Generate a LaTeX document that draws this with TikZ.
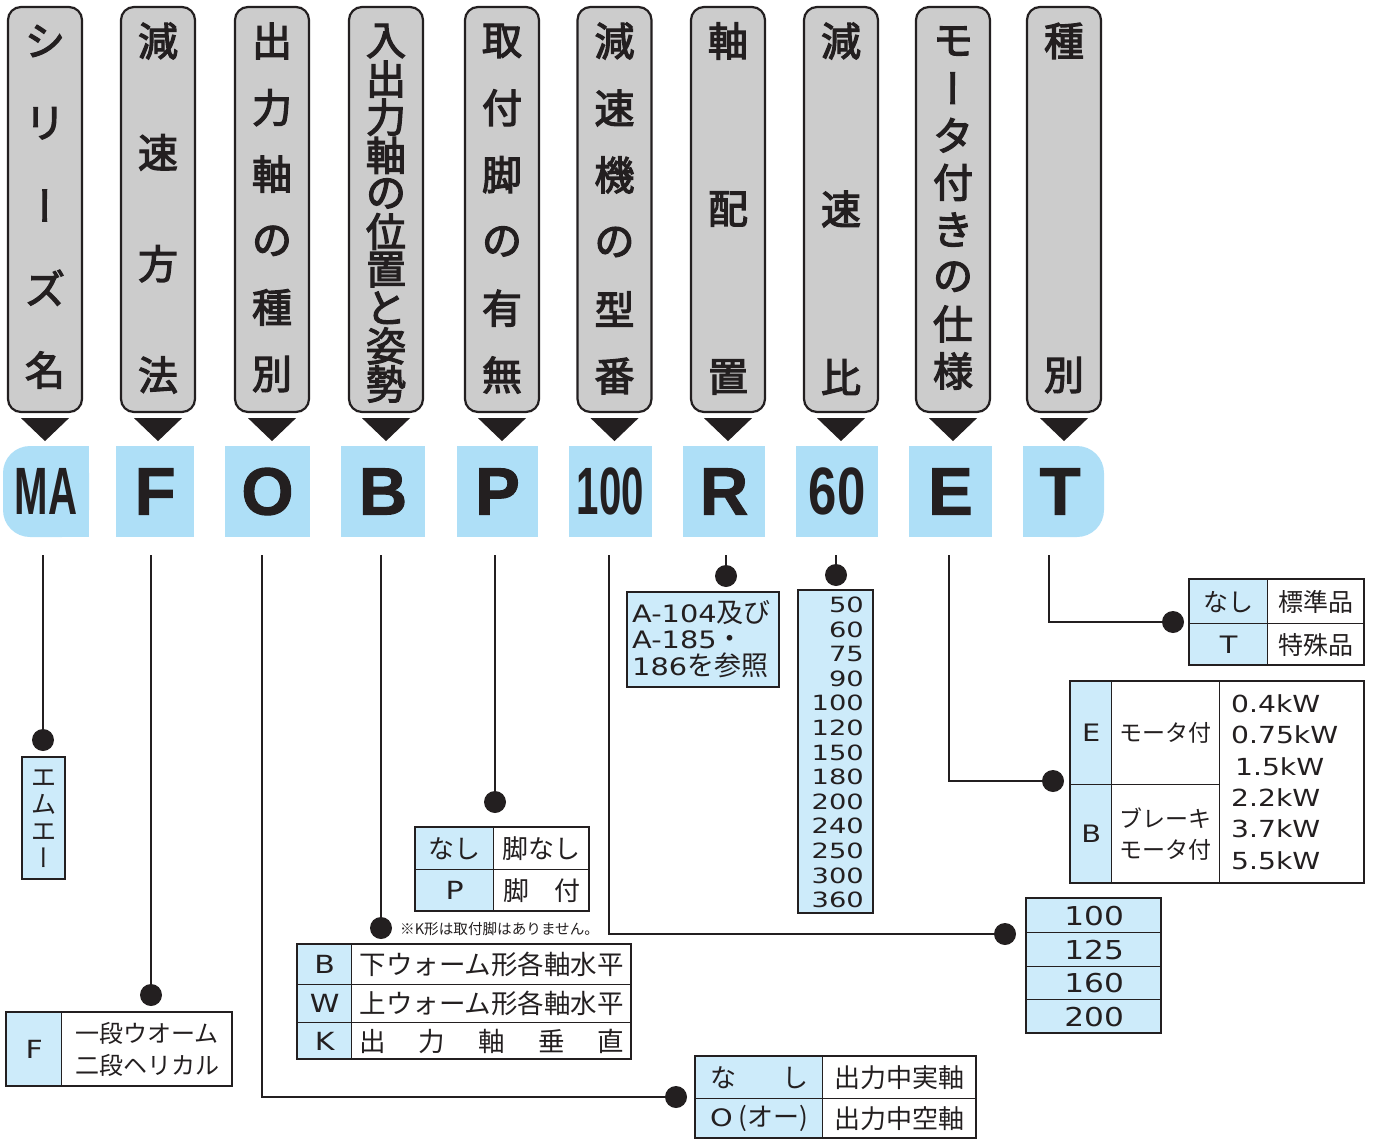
\documentclass[tikz,border=0pt]{standalone}
\usepackage{fontspec}
\setmainfont{Noto Sans CJK JP}
\newfontfamily\jp{Noto Sans CJK JP}
\newfontfamily\jph{Noto Sans CJK JP}[FakeBold=3]
\newfontfamily\ltw{DejaVu Sans}[FakeStretch=1.2]
\newfontfamily\ltn{DejaVu Sans}[FakeStretch=1.3]
\newfontfamily\fbw{Liberation Sans}[FakeBold=1.5]
\newfontfamily\fbc{Liberation Sans}[FakeStretch=0.6]
\newfontfamily\fbm{Liberation Sans}[FakeStretch=0.76]
\definecolor{ink}{HTML}{231F20}
\definecolor{hdr}{HTML}{CCCCCC}
\definecolor{key}{HTML}{AEDFF7}
\definecolor{cellc}{HTML}{CDEBFA}
\newcommand\vcho{{\addfontfeature{RawFeature=+vert}ー}}
\newcommand\hdrbox[5]{%
  \node[hbox] (#1) at (#2,209.5) {};
  \fill[ink] (#1.south) ++(-24,5) -- ++(48,0) -- ++(-24,23) -- cycle;
  \foreach \hc [count=\i] in {#5} {
    \node[htxt] at (#2,{41+(\i-1)*(#4-41)/(#3-1)}) {\hc};
  }%
}
\newcommand\cell[7][]{%
  \node[cellsty,#1,minimum width={#5-#3},minimum height={#6-#4},anchor=north west] (#2) at (#3,#4) {#7};%
}
\begin{document}
\begin{tikzpicture}[x=1pt,y=-1pt,
  hbox/.style={draw=ink,line width=2.2,fill=hdr,rounded corners=13,minimum width=74,minimum height=405,inner sep=0},
  htxt/.style={font=\jph\fontsize{40}{40}\selectfont,text=ink,inner sep=0},
  kbox/.style={fill=key,minimum height=91,inner sep=0,text=ink},
  kfw/.style={font=\fbw\bfseries\fontsize{67}{67}\selectfont},
  conn/.style={draw=ink,line width=2},
  dot/.style={circle,fill=ink,minimum size=22,inner sep=0},
  cellsty/.style={draw=ink,line width=1.3,inner sep=0,text=ink,font=\jp\fontsize{26}{30}\selectfont},
  outer/.style={draw=ink,line width=2.6},
]
\useasboundingbox (0,0) rectangle (1374,1140);

% ---- header boxes
\hdrbox{h1}{45}{5}{370}{シ,リ,\vcho,ズ,名}
\hdrbox{h2}{158}{4}{375}{減,速,方,法}
\hdrbox{h3}{272}{6}{374}{出,力,軸,の,種,別}
\hdrbox{h4}{386}{10}{384}{入,出,力,軸,の,位,置,と,姿,勢}
\hdrbox{h5}{502}{6}{375}{取,付,脚,の,有,無}
\hdrbox{h6}{614.5}{6}{376}{減,速,機,の,型,番}
\hdrbox{h7}{728}{3}{377}{軸,配,置}
\hdrbox{h8}{841}{3}{377}{減,速,比}
\hdrbox{h9}{953}{8}{371}{モ,\vcho,タ,付,き,の,仕,様}
\hdrbox{h10}{1064}{2}{375}{種,別}

% ---- key letters
\fill[key,rounded corners=27] (3,446) rectangle (89,537);
\fill[key] (46,446) rectangle (89,537);
\node[inner sep=0,minimum width=86,minimum height=91,text=ink,font=\fbc\bfseries\fontsize{67}{67}\selectfont] (kMA) at (46,491.5) {MA};
\node[kbox,kfw,minimum width=78] (kF) at (155,491.5) {F};
\node[kbox,kfw,minimum width=85] (kO) at (267.5,491.5) {O};
\node[kbox,kfw,minimum width=84] (kB) at (383,491.5) {B};
\node[kbox,kfw,minimum width=81] (kP) at (497.5,491.5) {P};
\node[kbox,minimum width=83,font=\fbc\bfseries\fontsize{67}{67}\selectfont] (k100) at (610.5,491.5) {100};
\node[kbox,kfw,minimum width=82] (kR) at (724,491.5) {R};
\node[kbox,minimum width=82,font=\fbm\bfseries\fontsize{67}{67}\selectfont] (k60) at (837,491.5) {60};
\node[kbox,kfw,minimum width=83] (kE) at (950.5,491.5) {E};
\fill[key,rounded corners=27] (1023,446) rectangle (1104,537);
\fill[key] (1023,446) rectangle (1063,537);
\node[inner sep=0,minimum width=81,minimum height=91,text=ink,kfw] (kT) at (1060,491.5) {T};

% ---- connector start points
\coordinate (sMA) at (43,555);
\coordinate (sF) at (151,555);
\coordinate (sO) at (262,555);
\coordinate (sB) at (381,555);
\coordinate (sP) at (495,555);
\coordinate (s100) at (609,555);
\coordinate (sR) at (726,555);
\coordinate (s60) at (836,555);
\coordinate (sE) at (949,555);
\coordinate (sT) at (1049,555);

% ---- dots
\node[dot] (dMA) at (43,740) {};
\node[dot] (dF) at (151,995) {};
\node[dot] (dO) at (676,1097) {};
\node[dot] (dB) at (381,928) {};
\node[dot] (dP) at (495,802) {};
\node[dot] (d100) at (1005,934) {};
\node[dot] (dR) at (726,576) {};
\node[dot] (d60) at (836,575) {};
\node[dot] (dE) at (1053,781) {};
\node[dot] (dT) at (1173,622) {};

\draw[conn] (sMA) -- (dMA);
\draw[conn] (sF) -- (dF);
\draw[conn] (sO) |- (dO);
\draw[conn] (sB) -- (dB);
\draw[conn] (sP) -- (dP);
\draw[conn] (s100) |- (d100);
\draw[conn] (sR) -- (dR);
\draw[conn] (s60) -- (d60);
\draw[conn] (sE) |- (dE);
\draw[conn] (sT) |- (dT);

% ---- MA table
\cell[fill=cellc,align=center,font=\jp\fontsize{25}{26.7}\selectfont]{tMA}{22}{757}{65}{879}{エ\\ム\\エ\\\vcho}
\draw[outer] (22,757) rectangle (65,879);

% ---- F table
\cell[fill=cellc,font=\ltw\fontsize{25}{30}\selectfont]{tFa}{6}{1012}{61}{1086}{F}
\cell[fill=white,align=center,font=\jp\fontsize{24}{32}\selectfont]{tFb}{61}{1012}{232}{1086}{一段ウオーム\\二段ヘリカル}
\draw[outer] (6,1012) rectangle (232,1086);

% ---- O table
\cell[fill=cellc]{tOa}{695}{1056}{822}{1098}{\makebox[98pt]{な\hfill し}}
\cell[fill=cellc]{tOb}{695}{1098}{822}{1138}{{\ltw\fontsize{24}{30}\selectfont O} (オー)}
\cell[fill=white]{tOc}{822}{1056}{976}{1098}{出力中実軸}
\cell[fill=white]{tOd}{822}{1098}{976}{1138}{出力中空軸}
\draw[outer] (695,1056) rectangle (976,1138);

% ---- B table
\node[inner sep=0,anchor=west,text=ink,font=\jp\fontsize{14.6}{14.6}\selectfont] (note) at (400,929) {※K形は取付脚はありません。};
\cell[fill=cellc,font=\ltw\fontsize{25}{30}\selectfont]{tBa}{297}{944}{351}{984}{B}
\cell[fill=cellc,font=\ltw\fontsize{25}{30}\selectfont]{tBb}{297}{984}{351}{1022}{W}
\cell[fill=cellc,font=\ltw\fontsize{25}{30}\selectfont]{tBc}{297}{1022}{351}{1059}{K}
\cell[fill=white,font=\jp\fontsize{26.5}{30}\selectfont]{tBd}{351}{944}{631}{984}{下ウォーム形各軸水平}
\cell[fill=white,font=\jp\fontsize{26.5}{30}\selectfont]{tBe}{351}{984}{631}{1022}{上ウォーム形各軸水平}
\cell[fill=white,font=\jp\fontsize{26.5}{30}\selectfont]{tBf}{351}{1022}{631}{1059}{\makebox[265pt]{出\hfill 力\hfill 軸\hfill 垂\hfill 直}}
\draw[outer] (297,944) rectangle (631,1059);

% ---- P table
\cell[fill=cellc]{tPa}{415}{827}{493}{869}{なし}
\cell[fill=cellc,font=\ltw\fontsize{25}{30}\selectfont]{tPb}{415}{869}{493}{911}{P}
\cell[fill=white]{tPc}{493}{827}{589}{869}{脚なし}
\cell[fill=white]{tPd}{493}{869}{589}{911}{\makebox[77pt]{脚\hfill 付}}
\draw[outer] (415,827) rectangle (589,911);

% ---- 100 table
\cell[fill=cellc,font=\ltw\fontsize{26}{30}\selectfont]{tNa}{1026}{898}{1161}{932}{100}
\cell[fill=cellc,font=\ltw\fontsize{26}{30}\selectfont]{tNb}{1026}{932}{1161}{966}{125}
\cell[fill=cellc,font=\ltw\fontsize{26}{30}\selectfont]{tNc}{1026}{966}{1161}{999}{160}
\cell[fill=cellc,font=\ltw\fontsize{26}{30}\selectfont]{tNd}{1026}{999}{1161}{1033}{200}
\draw[outer] (1026,898) rectangle (1161,1033);

% ---- R box
\cell[fill=cellc]{tR}{627}{592}{779}{687}{}
\node[inner sep=0,anchor=west,align=left,text=ink,font=\jp\fontsize{27}{26.5}\selectfont] (tRt) at (632,639) {{\ltw\fontsize{24}{26.5}\selectfont A-104}及び\\{\ltw\fontsize{24}{26.5}\selectfont A-185}・\\{\ltw\fontsize{24}{26.5}\selectfont 186}を参照};
\draw[outer] (627,592) rectangle (779,687);

% ---- 60 box
\cell[fill=cellc]{t60}{798}{590}{873}{913}{}
\node[inner sep=0,anchor=east,align=right,text=ink,font=\ltn\fontsize{21}{24.58}\selectfont] (t60t) at (864,752.5) {50\\60\\75\\90\\100\\120\\150\\180\\200\\240\\250\\300\\360};
\draw[outer] (798,590) rectangle (873,913);

% ---- E table
\cell[fill=cellc,font=\ltw\fontsize{24}{30}\selectfont]{tEa}{1070}{681}{1111}{784}{E}
\cell[fill=cellc,font=\ltw\fontsize{24}{30}\selectfont]{tEb}{1070}{784}{1111}{883}{B}
\cell[fill=white,font=\jp\fontsize{23}{31}\selectfont]{tEc}{1111}{681}{1219}{784}{モータ付}
\cell[fill=white,align=center,font=\jp\fontsize{23}{31}\selectfont]{tEd}{1111}{784}{1219}{883}{ブレーキ\\モータ付}
\cell[fill=white]{tEe}{1219}{681}{1364}{883}{}
\node[inner sep=0,anchor=west,align=left,text=ink,font=\ltw\fontsize{23.5}{31.4}\selectfont] (tEt) at (1231,782) {0.4kW\\0.75kW\\\,1.5kW\\2.2kW\\3.7kW\\5.5kW};
\draw[outer] (1070,681) rectangle (1364,883);

% ---- T table
\cell[fill=cellc,font=\jp\fontsize{25}{30}\selectfont]{tTa}{1189}{579}{1267}{623}{なし}
\cell[fill=cellc,font=\ltw\fontsize{24}{30}\selectfont]{tTb}{1189}{623}{1267}{665}{T}
\cell[fill=white,font=\jp\fontsize{25}{30}\selectfont]{tTc}{1267}{579}{1364}{623}{標準品}
\cell[fill=white,font=\jp\fontsize{25}{30}\selectfont]{tTd}{1267}{623}{1364}{665}{特殊品}
\draw[outer] (1189,579) rectangle (1364,665);
\end{tikzpicture}
\end{document}
